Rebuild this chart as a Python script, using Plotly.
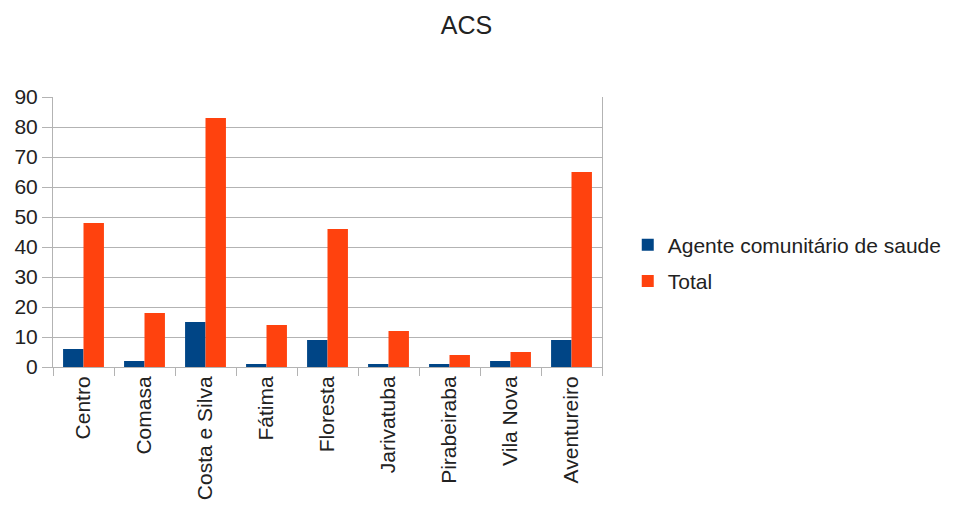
import plotly.graph_objects as go

categories = ["Centro", "Comasa", "Costa e Silva", "Fátima", "Floresta",
              "Jarivatuba", "Pirabeiraba", "Vila Nova", "Aventureiro"]
agente = [6, 2, 15, 1, 9, 1, 1, 2, 9]
total = [48, 18, 83, 14, 46, 12, 4, 5, 65]
y_ticks = [0, 10, 20, 30, 40, 50, 60, 70, 80, 90]

FONT = "Liberation Sans, Arial, sans-serif"
grid = "#b3b3b3"

fig = go.Figure()
fig.add_trace(go.Bar(x=categories, y=agente, name="Agente comunitário de saude",
                     marker=dict(color="#004586", line=dict(width=0)), legendgroup="a"))
fig.add_trace(go.Bar(x=categories, y=total, name="Total",
                     marker=dict(color="#ff420e", line=dict(width=0)), legendgroup="b"))

fig.update_layout(
    width=958, height=507,
    margin=dict(l=53, r=355, t=97, b=140),
    paper_bgcolor="white", plot_bgcolor="white",
    font=dict(family=FONT, size=20, color="#222222"),
    title=dict(text="ACS", x=0.487, xanchor="center", y=0.95, yanchor="middle",
               font=dict(size=25, family=FONT, color="#222222")),
    barmode="group", bargap=0.33, bargroupgap=0,
    legend=dict(x=1.045, y=0.385, xanchor="left", yanchor="middle",
                font=dict(size=21, family=FONT), tracegroupgap=6,
                bgcolor="rgba(0,0,0,0)"),
    showlegend=True,
)
fig.update_xaxes(
    type="category", tickangle=-90, tickson="boundaries", ticks="outside",
    ticklen=8, tickcolor=grid, showline=True, linecolor=grid, linewidth=1,
    mirror=False, showgrid=False, tickfont=dict(size=21, family=FONT),
    automargin=False,
)
fig.update_yaxes(
    range=[0, 90], tickvals=y_ticks, ticks="outside", ticklen=10, tickcolor=grid,
    showgrid=True, gridcolor=grid, gridwidth=1, showline=True, linecolor=grid,
    mirror=True, zeroline=False, tickfont=dict(size=21, family=FONT),
    automargin=False,
)
fig.write_html("out.html")
